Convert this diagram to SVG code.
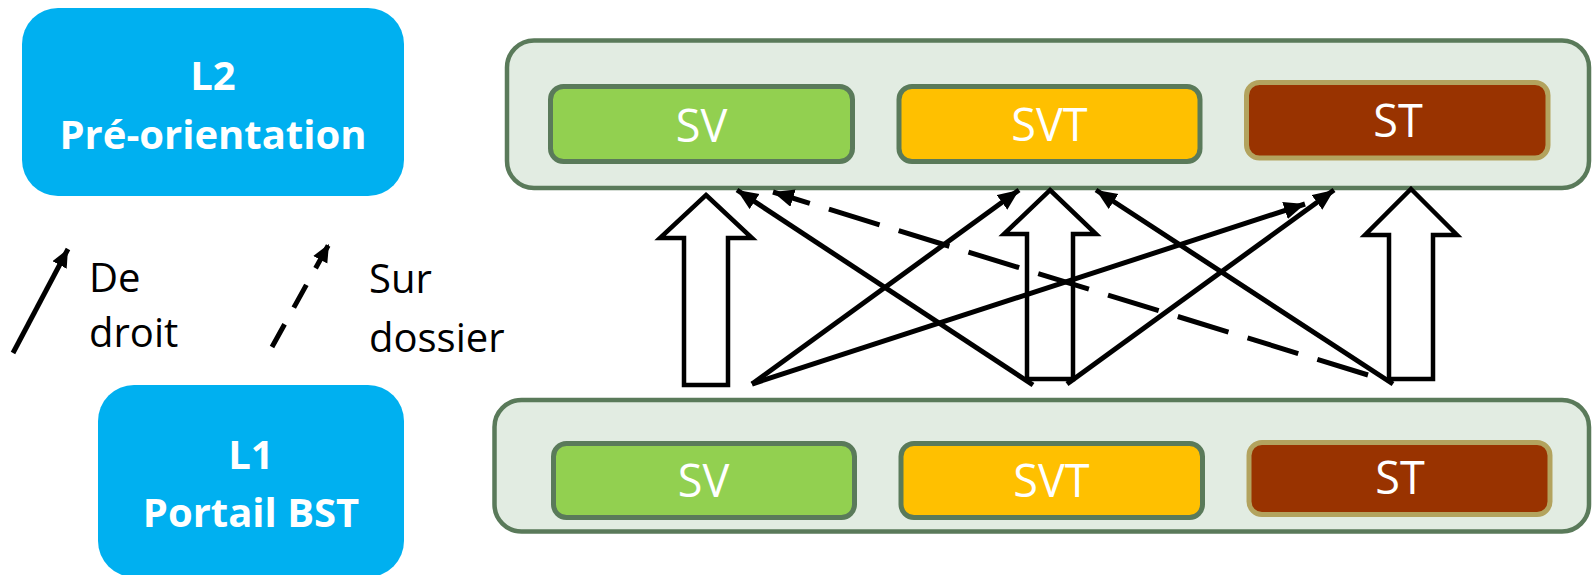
<svg xmlns="http://www.w3.org/2000/svg" width="1592" height="575" viewBox="0 0 1592 575">
<style>
.lvl{fill:#00B0F0}
.lvlt{font-family:"Open Sans","DejaVu Sans",sans-serif;font-weight:bold;font-size:40px;fill:#fff;text-anchor:middle}
.leg{font-family:"Open Sans","DejaVu Sans",sans-serif;font-size:40px;fill:#000}
.cont{fill:#E2ECE2;stroke:#5A7A5A;stroke-width:4.5}
.bx{stroke:#5A7A5A;stroke-width:5}
.st{stroke:#B3A35E;stroke-width:5}
.bt{font-family:"Open Sans","DejaVu Sans",sans-serif;font-size:45px;fill:#fff;text-anchor:middle}
.blk{fill:#fff;stroke:#000;stroke-width:4.5;stroke-linejoin:miter}
.ln{stroke:#000;stroke-width:5;fill:none}
</style>
<defs>
<marker id="ah" markerUnits="userSpaceOnUse" markerWidth="24" markerHeight="20" refX="21" refY="9" orient="auto">
<path d="M0,0 L21,9 L0,18 z" fill="#000"/>
</marker>
<marker id="ahs" markerUnits="userSpaceOnUse" markerWidth="20" markerHeight="18" refX="18" refY="8" orient="auto">
<path d="M0,0 L18,8 L0,16 z" fill="#000"/>
</marker>
</defs>
<rect width="1592" height="575" fill="#fff"/>
<g id="L2">
<rect class="lvl" x="22" y="8" width="382" height="188" rx="36"/>
<text class="lvlt" x="213" y="90">L2</text>
<text class="lvlt" x="213" y="148.5">Pré-orientation</text>
</g>
<g id="L1">
<rect class="lvl" x="98" y="385" width="306" height="192" rx="36"/>
<text class="lvlt" x="251" y="469">L1</text>
<text class="lvlt" x="251" y="527">Portail BST</text>
</g>
<g id="legend">
<line class="ln" x1="13" y1="353" x2="68" y2="249" marker-end="url(#ahs)"/>
<text class="leg" x="89" y="292">De</text>
<text class="leg" x="89" y="347">droit</text>
<line class="ln" x1="272" y1="347" x2="329" y2="244" stroke-dasharray="26 19" marker-end="url(#ahs)"/>
<text class="leg" x="369" y="293">Sur</text>
<text class="leg" x="369" y="352">dossier</text>
</g>
<g id="top-level">
<rect class="cont" x="507" y="40.5" width="1082" height="147.5" rx="27"/>
<g id="top-SV"><rect class="bx" x="550.5" y="86.5" width="302" height="75" rx="13" fill="#92D050"/><text class="bt" x="701.5" y="142">SV</text></g>
<g id="top-SVT"><rect class="bx" x="899" y="86.5" width="301" height="75" rx="13" fill="#FFC000"/><text class="bt" x="1049.5" y="141">SVT</text></g>
<g id="top-ST"><rect class="st" x="1246.5" y="82.5" width="301.5" height="75.5" rx="13" fill="#993300"/><text class="bt" x="1398" y="137">ST</text></g>
</g>
<g id="bottom-level">
<rect class="cont" x="494.5" y="400" width="1094.5" height="131.5" rx="27"/>
<g id="bot-SV"><rect class="bx" x="553.5" y="443.5" width="301" height="74" rx="13" fill="#92D050"/><text class="bt" x="703.5" y="497">SV</text></g>
<g id="bot-SVT"><rect class="bx" x="901" y="443.5" width="301.5" height="74" rx="13" fill="#FFC000"/><text class="bt" x="1051.5" y="497">SVT</text></g>
<g id="bot-ST"><rect class="st" x="1249" y="442.5" width="301" height="72" rx="13" fill="#993300"/><text class="bt" x="1400" y="494">ST</text></g>
</g>
<g id="connectors">
<polygon class="blk" points="706,195 752,238 728,238 728,385 684,385 684,238 660,238"/>
<polygon class="blk" points="1050,190 1096,234 1073,234 1073,379 1027,379 1027,234 1004,234"/>
<polygon class="blk" points="1411,189 1457,235 1433,235 1433,379 1389,379 1389,235 1365,235"/>
<line class="ln" x1="752" y1="384" x2="1019" y2="190" marker-end="url(#ah)"/>
<line class="ln" x1="752" y1="384" x2="1305" y2="204" marker-end="url(#ah)"/>
<line class="ln" x1="1033" y1="385" x2="737" y2="190" marker-end="url(#ah)"/>
<line class="ln" x1="1067" y1="384" x2="1334" y2="190" marker-end="url(#ah)"/>
<line class="ln" x1="1393" y1="384" x2="1096" y2="190" marker-end="url(#ah)"/>
<line class="ln" x1="1368" y1="375" x2="773" y2="192" stroke-dasharray="53 20" marker-end="url(#ah)"/>
</g>
</svg>
